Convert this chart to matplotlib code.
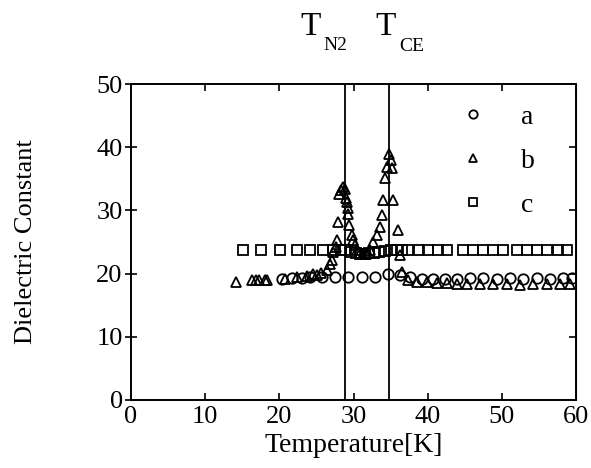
import matplotlib
matplotlib.use("Agg")
import matplotlib.pyplot as plt

plt.rcParams['font.family'] = ['Liberation Serif', 'DejaVu Serif']

# series a (circles)
a_T = [20.3, 21.7, 23.0, 24.1, 25.8, 27.5, 29.3, 31.1, 32.9, 34.7, 36.3,
       37.6, 39.2, 40.7, 42.3, 43.9, 45.7, 47.5, 49.3, 51.1, 52.8, 54.7,
       56.5, 58.2, 59.5]
a_D = [19.2, 19.3, 19.3, 19.4, 19.5, 19.5, 19.5, 19.4, 19.4, 20.0, 19.8,
       19.4, 19.2, 19.2, 19.2, 19.2, 19.3, 19.3, 19.2, 19.3, 19.2, 19.3,
       19.2, 19.3, 19.3]

# series b (triangles)
b_T = [14.2, 16.3, 16.8, 17.3, 18.0, 18.4, 20.8, 22.4, 23.7, 24.5, 25.1,
       25.6, 26.4, 26.8, 27.1, 27.2, 27.6, 27.8, 27.9, 28.0, 28.3, 28.6,
       28.9, 29.0, 29.1, 29.2, 29.3, 29.4, 29.8, 29.9, 30.2, 30.5, 30.9,
       31.3, 31.7, 32.0, 32.2, 32.6, 33.2, 33.6, 33.8, 34.0, 34.2, 34.5,
       34.8, 35.0, 35.2, 35.3, 36.0, 36.3, 36.5, 37.3, 38.5, 39.9, 41.2,
       42.6, 44.0, 45.3, 47.0, 48.8, 50.7, 52.4, 54.2, 56.1, 57.8, 59.2]
b_D = [18.6, 19.0, 19.0, 19.0, 19.0, 19.0, 19.2, 19.4, 19.6, 19.9, 19.8,
       20.1, 20.6, 21.6, 22.2, 23.4, 24.2, 25.3, 28.2, 32.6, 33.2, 33.7,
       33.4, 32.0, 31.4, 30.4, 29.4, 27.7, 26.1, 25.3, 24.6, 23.8, 23.3,
       23.1, 23.1, 23.3, 23.7, 25.0, 26.1, 27.4, 29.3, 31.6, 35.1, 36.9,
       39.0, 38.0, 36.7, 31.6, 26.9, 22.9, 20.2, 19.0, 18.7, 18.7, 18.5,
       18.5, 18.4, 18.3, 18.4, 18.3, 18.3, 18.2, 18.3, 18.3, 18.3, 18.4]

# series c (squares)
c_T = [15.1, 17.5, 20.1, 22.4, 24.1, 25.9, 27.2, 28.3, 28.9, 29.6, 30.3,
       30.9, 31.5, 32.1, 32.8, 33.5, 34.2, 35.0, 35.8, 36.5, 37.3, 38.8,
       40.0, 41.4, 42.6, 44.8, 46.1, 47.5, 48.8, 50.2, 52.0, 53.4, 54.7,
       56.1, 57.6, 58.8]
c_D = [23.7, 23.7, 23.7, 23.7, 23.7, 23.7, 23.8, 23.8, 23.7, 23.5, 23.3,
       23.1, 23.1, 23.2, 23.3, 23.5, 23.6, 23.7, 23.7, 23.7, 23.7, 23.7,
       23.7, 23.7, 23.7, 23.7, 23.7, 23.7, 23.7, 23.7, 23.7, 23.7, 23.7,
       23.7, 23.7, 23.7]

T_N2 = 28.8
T_CE = 34.8

fig = plt.figure(figsize=(5.91, 4.68), dpi=100)
ax = fig.add_axes([0.2217, 0.1453, 0.753, 0.675])

mk = dict(linestyle='none', markerfacecolor='none', markeredgecolor='black',
          markeredgewidth=1.3, markersize=7.5)
ax.plot(a_T, a_D, marker='o', label='a', **mk)
ax.plot(b_T, b_D, marker='^', label='b', **mk)
ax.plot(c_T, c_D, marker='s', label='c', **mk)

ax.axvline(T_N2, color='black', lw=1.3)
ax.axvline(T_CE, color='black', lw=1.3)

ax.set_xlim(0, 60)
ax.set_ylim(0, 50)
ax.set_xticks(range(0, 61, 10))
ax.set_yticks(range(0, 51, 10))
for s in ax.spines.values():
    s.set_linewidth(1.4)
ax.tick_params(axis='x', direction='in', top=True, length=5, width=1.2,
               labelsize=19, pad=4)
ax.tick_params(axis='y', direction='inout', length=8, width=1.2,
               labelsize=19, pad=2)
right = ax.secondary_yaxis('right')
right.set_yticks(range(0, 51, 10))
right.tick_params(direction='in', length=5, width=1.2, labelright=False)

ax.set_xlabel('Temperature[K]', fontsize=20, labelpad=4)
ax.set_ylabel('Dielectric Constant', fontsize=19, labelpad=43)

ax.legend(loc='upper left', bbox_to_anchor=(0.713, 0.97), frameon=False,
          fontsize=20, handlelength=1, handletextpad=1.2, labelspacing=0.66,
          borderaxespad=0, markerscale=0.8)

fig.text(300 / 591, 1 - 35 / 468, 'T', fontsize=24, va='baseline')
fig.text(323 / 591, 1 - 50 / 468, 'N2', fontsize=14, va='baseline')
fig.text(375 / 591, 1 - 35 / 468, 'T', fontsize=24, va='baseline')
fig.text(399 / 591, 1 - 51 / 468, 'CE', fontsize=14, va='baseline')

fig.savefig('out.png', dpi=100)
